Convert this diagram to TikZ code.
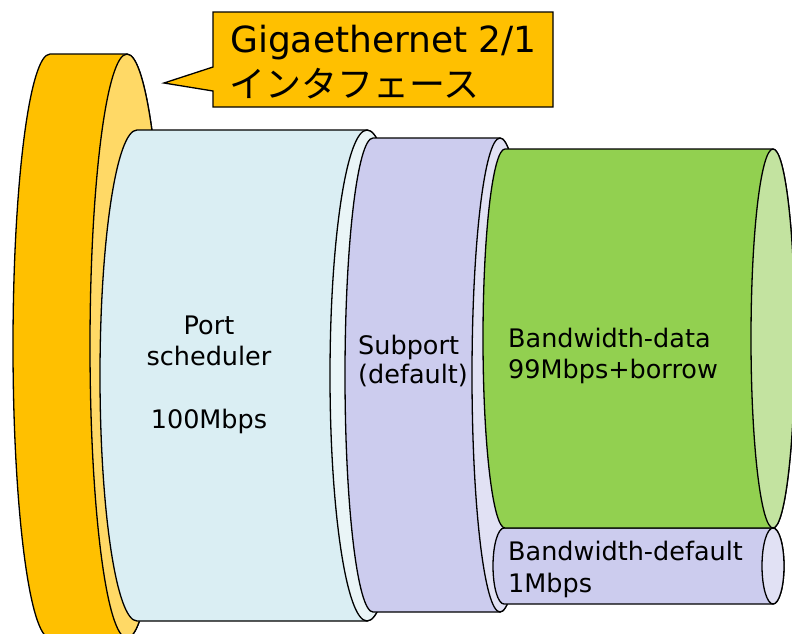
\documentclass[tikz,border=0pt]{standalone}
\usepackage{fontspec}
\setmainfont{DejaVu Sans}
\newfontfamily\jpfont{Noto Sans CJK JP}

\definecolor{ifbody}{HTML}{FFC000}
\definecolor{ifface}{HTML}{FFD966}
\definecolor{portbody}{HTML}{DAEEF3}
\definecolor{portface}{HTML}{EAF5F7}
\definecolor{subbody}{HTML}{CCCCEE}
\definecolor{subface}{HTML}{E1E1F4}
\definecolor{databody}{HTML}{92D050}
\definecolor{dataface}{HTML}{C3E3A0}

% horizontal can: #1 left x, #2 right x, #3 top y, #4 bottom y, #5 end radius,
% #6 body colour, #7 end-face colour (page coordinates, y measured downwards)
\newcommand\hcan[7]{%
  \pgfmathsetmacro\cy{(#3+#4)/2}%
  \pgfmathsetmacro\ry{(#4-#3)/2}%
  \draw[canline, fill=#6] (#1,-#3) -- (#2,-#3)
    arc[start angle=90, end angle=-90, x radius=#5pt, y radius=\ry pt]
    -- (#1,-#4)
    arc[start angle=270, end angle=90, x radius=#5pt, y radius=\ry pt] -- cycle;
  \draw[canline, fill=#7] (#2,-\cy) ellipse[x radius=#5pt, y radius=\ry pt];
}

\begin{document}
\begin{tikzpicture}[x=1pt, y=1pt,
  canline/.style={draw=black, line width=1.3pt, line join=round},
  label/.style={inner sep=0pt, font=\fontsize{25.5}{31}\selectfont},
  callout/.style={draw=black, line width=1.3pt, fill=ifbody}]
  \useasboundingbox (0,0) rectangle (792,-633);
  \clip (0,0) rectangle (792,-633);

  % interface disc
  \hcan{50}{127}{54}{638}{37}{ifbody}{ifface}
  % port scheduler
  \hcan{137}{367}{130}{621}{37}{portbody}{portface}
  % subport
  \hcan{373}{500}{138}{612}{28}{subbody}{subface}
  % bandwidth classes
  \hcan{504}{773}{528}{604}{11}{subbody}{subface}
  \hcan{505}{773}{149}{528}{22}{databody}{dataface}

  % callout box
  \draw[callout] (213,-12) -- (553,-12) -- (553,-107) -- (213,-107)
    -- (213,-91) -- (164,-83) -- (213,-67) -- cycle;
  \node[inner sep=0pt, anchor=base west, font=\fontsize{36}{45}\selectfont]
    (ifname) at (230,-52) {Gigaethernet 2/1};
  \node[inner sep=0pt, anchor=base west, font=\jpfont\fontsize{36}{45}\selectfont]
    (ifjp) at (229,-97) {インタフェース};

  % labels (anchored at the baseline of their last line)
  \node[label, anchor=base, align=center] (port) at (209,-428)
    {Port\\scheduler\\[32pt]100Mbps};
  \node[label, anchor=base west, align=left,
        font=\fontsize{25.5}{29.5}\selectfont] (sub) at (358,-383.5)
    {Subport\\(default)};
  \node[label, anchor=base west, align=left] (bwdata) at (508,-378)
    {Bandwidth-data\\99Mbps+borrow};
  \node[label, anchor=base west, align=left,
        font=\fontsize{25.5}{32}\selectfont] (bwdef) at (508,-592.5)
    {Bandwidth-default\\1Mbps};
\end{tikzpicture}
\end{document}
